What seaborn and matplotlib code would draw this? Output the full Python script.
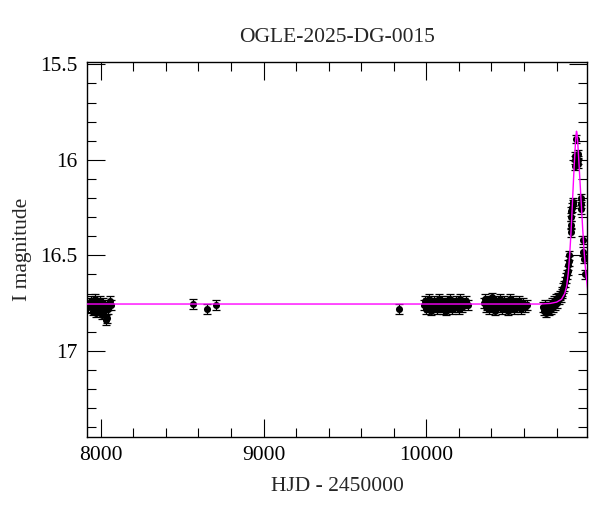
import numpy as np
import pandas as pd
import seaborn as sns
import matplotlib
matplotlib.use("Agg")
import matplotlib.pyplot as plt
from matplotlib.ticker import MultipleLocator, FuncFormatter

# photometry (HJD - 2450000, I mag)
t_left = [7925, 7935, 7942, 7950, 7956, 7962, 7968, 7973, 7978, 7984,
          7990, 7995, 8000, 8005, 8010, 8015, 8020, 8026, 8031, 8037,
          8042, 8048, 8055, 8062]
m_left = [16.77, 16.75, 16.74, 16.79, 16.76, 16.78, 16.73, 16.80, 16.75, 16.77,
          16.79, 16.74, 16.78, 16.76, 16.81, 16.75, 16.79, 16.77, 16.84, 16.83,
          16.76, 16.78, 16.74, 16.76]

t_single = [8567, 8653, 8708, 9830]
m_single = [16.755, 16.78, 16.76, 16.78]

t_c1 = [9988, 9994, 10000, 10006, 10012, 10019, 10025, 10031, 10038, 10044,
        10051, 10057, 10063, 10070, 10076, 10083, 10089, 10096, 10102, 10108,
        10115, 10121, 10128, 10134, 10141, 10147, 10153, 10160, 10166, 10173,
        10179, 10186, 10192, 10199, 10205, 10212, 10218, 10231, 10244, 10258]
m_c1 = [16.76, 16.74, 16.78, 16.75, 16.77, 16.73, 16.76, 16.79, 16.75, 16.74,
        16.77, 16.76, 16.78, 16.75, 16.73, 16.77, 16.76, 16.74, 16.78, 16.75,
        16.76, 16.79, 16.74, 16.77, 16.75, 16.73, 16.76, 16.78, 16.75, 16.77,
        16.74, 16.76, 16.75, 16.78, 16.73, 16.76, 16.77, 16.75, 16.74, 16.76]

t_c2 = [10352, 10359, 10366, 10373, 10380, 10387, 10394, 10401, 10408, 10415,
        10422, 10429, 10436, 10443, 10450, 10457, 10464, 10471, 10478, 10485,
        10492, 10499, 10506, 10513, 10520, 10527, 10534, 10541, 10548, 10555,
        10562, 10569, 10580, 10592, 10606, 10620]
m_c2 = [16.75, 16.73, 16.77, 16.76, 16.74, 16.78, 16.75, 16.72, 16.77, 16.76,
        16.79, 16.74, 16.75, 16.77, 16.73, 16.76, 16.78, 16.75, 16.74, 16.77,
        16.76, 16.79, 16.75, 16.73, 16.77, 16.76, 16.74, 16.78, 16.75, 16.77,
        16.76, 16.74, 16.78, 16.75, 16.77, 16.76]

t_c3 = [10716, 10722, 10728, 10734, 10740, 10746, 10752, 10758, 10764, 10770,
        10776, 10782, 10788, 10794, 10800, 10806, 10812, 10818, 10824, 10830,
        10836, 10842, 10848, 10853, 10858, 10863, 10867, 10871, 10875, 10879]
m_c3 = [16.77, 16.79, 16.76, 16.80, 16.78, 16.77, 16.79, 16.76, 16.78, 16.75,
        16.77, 16.74, 16.76, 16.73, 16.75, 16.72, 16.73, 16.71, 16.72, 16.70,
        16.69, 16.67, 16.66, 16.64, 16.62, 16.60, 16.58, 16.55, 16.53, 16.50]

t_peak = [10888, 10889, 10890, 10891, 10897, 10898, 10899, 10912, 10913, 10914,
          10918, 10931, 10932, 10933, 10949, 10950, 10951, 10961, 10965, 10966,
          10975]
m_peak = [16.38, 16.34, 16.30, 16.27, 16.25, 16.23, 16.22, 16.03, 16.00, 15.98,
          15.89, 15.97, 16.00, 16.02, 16.20, 16.23, 16.26, 16.42, 16.48, 16.52,
          16.60]

err_base = 0.025
err_peak = 0.022

# model curve
t_model = [7900, 10700, 10760, 10800, 10830, 10850, 10862, 10872, 10880, 10887,
           10893, 10899, 10905, 10910, 10915, 10919, 10922, 10925, 10929, 10934,
           10940, 10946, 10952, 10960, 10968, 10976, 10984, 10995]
m_model = [16.755, 16.755, 16.752, 16.745, 16.73, 16.70, 16.66, 16.59, 16.50, 16.40,
           16.30, 16.19, 16.08, 16.00, 15.92, 15.87, 15.85, 15.86, 15.90, 15.97,
           16.06, 16.15, 16.24, 16.36, 16.47, 16.56, 16.63, 16.71]

t_all = t_left + t_single + t_c1 + t_c2 + t_c3 + t_peak
m_all = m_left + m_single + m_c1 + m_c2 + m_c3 + m_peak
e_all = [err_base] * (len(t_all) - len(t_peak)) + [err_peak] * len(t_peak)
df = pd.DataFrame({"hjd": t_all, "mag": m_all, "err": e_all})

sns.set_style("ticks")
plt.rcParams["font.family"] = ["Liberation Serif", "DejaVu Serif"]

fig = plt.figure(figsize=(6, 5.12), dpi=100)
ax = fig.add_axes([0.145, 0.147, 0.834, 0.731])

ax.errorbar(df["hjd"], df["mag"], yerr=df["err"], fmt="none", ecolor="black",
            elinewidth=0.9, capsize=2.8, capthick=0.9, zorder=2)
sns.scatterplot(data=df, x="hjd", y="mag", color="black", s=26, linewidth=0,
                ax=ax, zorder=3)
sns.lineplot(x=t_model, y=m_model, color="#ff00ff", lw=1.0, sort=False,
             ax=ax, zorder=4)

ax.set_xlim(7916, 10989)
ax.set_ylim(17.45, 15.49)
ax.xaxis.set_major_locator(MultipleLocator(1000))
ax.xaxis.set_minor_locator(MultipleLocator(200))
ax.yaxis.set_major_locator(MultipleLocator(0.5))
ax.yaxis.set_minor_locator(MultipleLocator(0.1))
ax.yaxis.set_major_formatter(FuncFormatter(lambda v, p: "%g" % v))
ax.xaxis.set_major_formatter(FuncFormatter(lambda v, p: "%d" % v))
ax.tick_params(which="both", direction="in", top=True, right=True,
               width=0.8, colors="black", labelsize=15.5)
ax.tick_params(which="major", length=13, pad=7)
ax.tick_params(which="minor", length=6.5)
for s in ax.spines.values():
    s.set_linewidth(1.0)
    s.set_color("black")

ax.set_xlabel("HJD - 2450000", fontsize=15.5, labelpad=8)
ax.set_ylabel("I magnitude", fontsize=15.5, labelpad=6)
ax.set_title("OGLE-2025-DG-0015", fontsize=15.5, pad=15)

fig.savefig("out.png", dpi=100)
